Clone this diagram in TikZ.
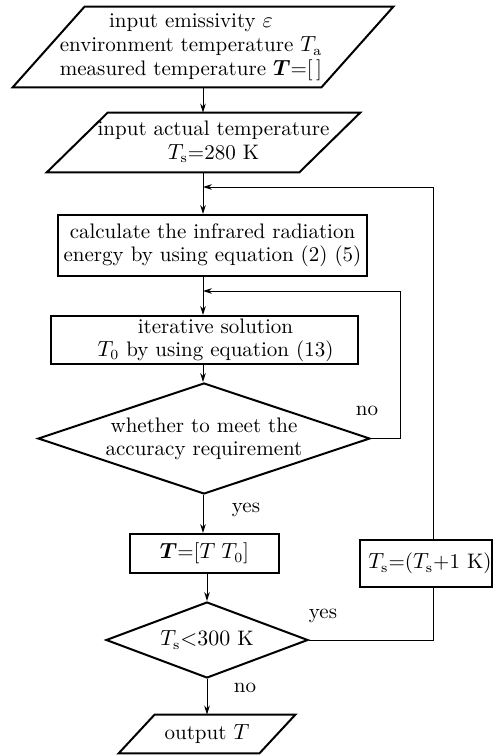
\documentclass[tikz,border=0pt]{standalone}
\usepackage{bm}
\usetikzlibrary{shapes.geometric,arrows.meta,calc}
\begin{document}
\begin{tikzpicture}[x=0.5pt,y=-0.5pt,
  base/.style={inner sep=0pt, font=\fontsize{10.5}{11.5}\selectfont},
  proc/.style={base, draw, line width=1pt, rectangle, align=center},
  dec/.style={base, draw, line width=1pt, diamond, aspect=3, align=center},
  io/.style={base, rectangle},
  ioshape/.style={line width=1pt, line join=miter},
  conn/.style={line width=0.5pt},
  arr/.style={conn, -{Stealth[length=4.5pt,width=2.8pt]}},
  lbl/.style={base}]
\useasboundingbox (0,0) rectangle (500,755);
\renewcommand{\arraystretch}{1.05}
% parallelogram 1
\node[io, minimum width=154pt, minimum height=40pt] (p1) at (203,47)
  {\begin{tabular}{@{}c@{}}input emissivity $\varepsilon$\\environment temperature $T_{\mathrm{a}}$\\measured temperature $\bm{T}$=[\,]\end{tabular}\kern12pt};
\draw[ioshape] ($(p1.north west)+(36,0)$) -- ($(p1.north east)+(36,0)$) -- ($(p1.south east)+(-36,0)$) -- ($(p1.south west)+(-36,0)$) -- cycle;
% parallelogram 2
\node[io, minimum width=124pt, minimum height=29.5pt] (p2) at (203.5,142.5)
  {\kern10pt\begin{tabular}{@{}c@{}}input actual temperature\\$T_{\mathrm{s}}$=280 K\end{tabular}};
\draw[ioshape] ($(p2.north west)+(30.5,0)$) -- ($(p2.north east)+(30.5,0)$) -- ($(p2.south east)+(-30.5,0)$) -- ($(p2.south west)+(-30.5,0)$) -- cycle;
% processes
\node[proc, minimum width=154.5pt, minimum height=30.5pt] (b1) at (212.5,245.5)
  {calculate the infrared radiation\\energy by using equation (2) (5)};
\node[proc, minimum width=153.5pt, minimum height=24pt] (b2) at (204.5,340)
  {\kern11pt iterative solution\\\kern11pt$T_0$ by using equation (13)};
\node[dec, minimum width=166pt, minimum height=55.5pt] (d1) at (204,438.5)
  {whether to meet the\\accuracy requirement};
\node[proc, minimum width=74.5pt, minimum height=19.5pt] (b3) at (204.5,553.5)
  {$\bm{T}$=[$T\;T_0$]};
\node[dec, minimum width=101pt, minimum height=38pt] (d2) at (207,640)
  {$T_{\mathrm{s}}{<}300$ K};
\node[proc, minimum width=66pt, minimum height=23.5pt] (b4) at (426,563.5)
  {\kern4pt$T_{\mathrm{s}}$=($T_{\mathrm{s}}$+1 K)};
% parallelogram 3
\node[io, minimum width=70pt, minimum height=19pt] (p3) at (207,734)
  {output $T$};
\draw[ioshape] ($(p3.north west)+(18,0)$) -- ($(p3.north east)+(18,0)$) -- ($(p3.south east)+(-18,0)$) -- ($(p3.south west)+(-18,0)$) -- cycle;
% labels
\node[lbl] (l1) at (367,411) {no};
\node[lbl] (l2) at (246,510) {yes};
\node[lbl] (l3) at (323,616) {yes};
\node[lbl] (l4) at (245,688) {no};
% connectors
\coordinate (n1) at (400,291);
\coordinate (n2) at (433,187);
\draw[arr] (p1.south) -- (p1.south |- p2.north);
\draw[arr] (p1.south |- p2.south) -- (p1.south |- b1.north);
\draw[arr] (p1.south |- b1.south) -- (p1.south |- b2.north);
\draw[arr] (p1.south |- b2.south) -- (p1.south |- d1.north);
\draw[arr] (p1.south |- d1.south) -- (p1.south |- b3.north);
\draw[arr] (d2.north |- b3.south) -- (d2.north);
\draw[arr] (d2.south) -- (d2.south |- p3.north);
\draw[arr] (d1.east) -| (n1) -- (n1 -| p1.south);
\draw[conn] (d2.east) -| (n2 |- b4.south);
\draw[arr] (n2 |- b4.north) -- (n2) -- (n2 -| p1.south);
\end{tikzpicture}
\end{document}
